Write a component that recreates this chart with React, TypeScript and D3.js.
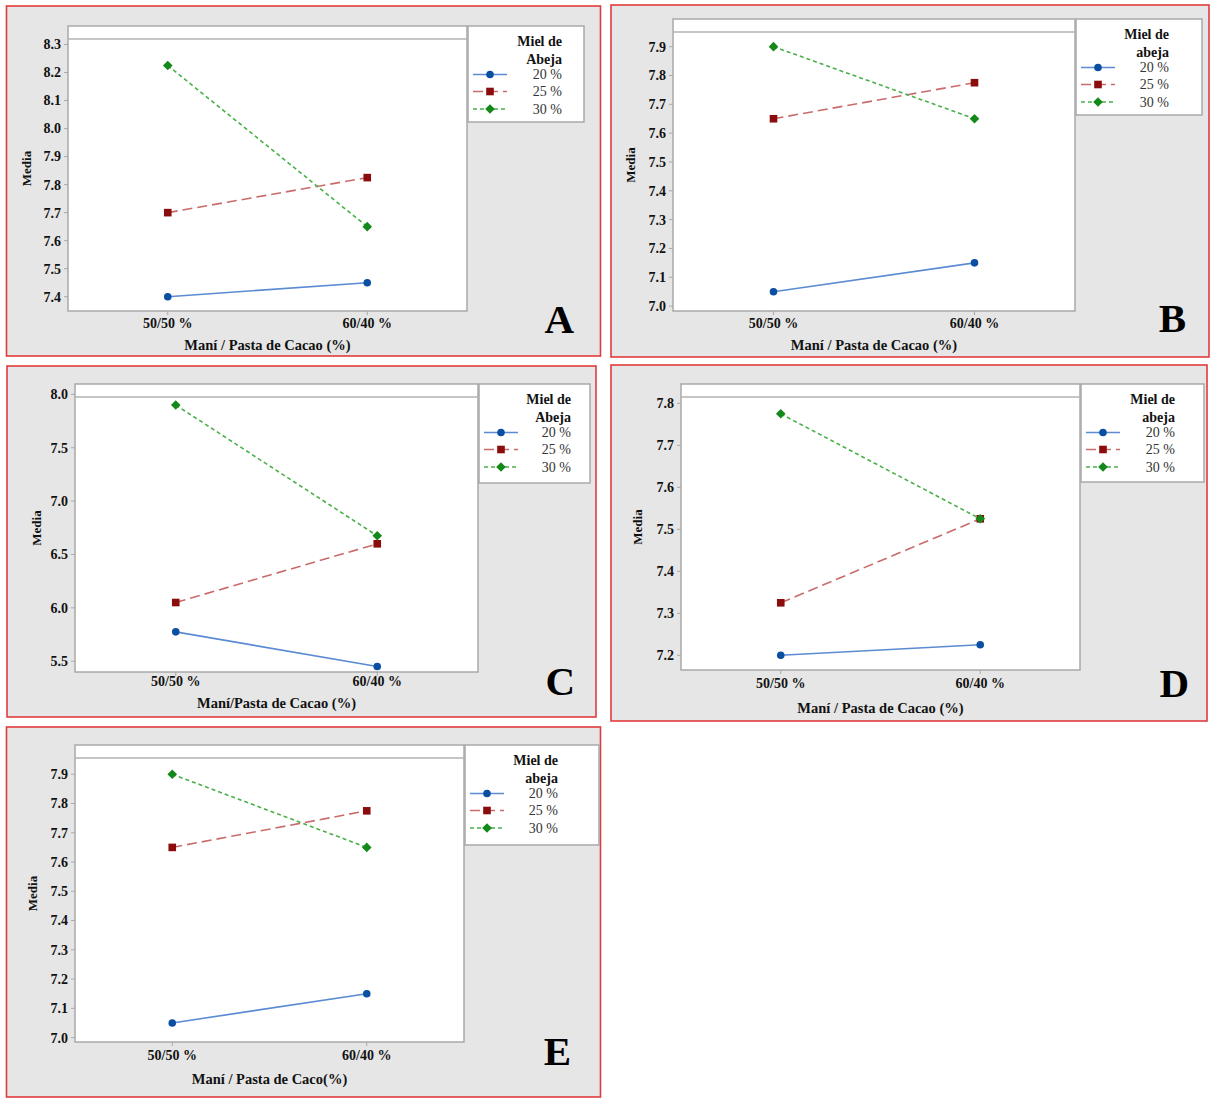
import React from "react";
import * as d3 from "d3";

// ---------- DATA ----------
const categories = ["50/50 %", "60/40 %"];
const seriesLabels = ["20 %", "25 %", "30 %"];
const panelLetters = ["A", "B", "C", "D", "E"];

const series20A = [7.4, 7.45];
const series25A = [7.7, 7.825];
const series30A = [8.225, 7.65];

const series20B = [7.05, 7.15];
const series25B = [7.65, 7.775];
const series30B = [7.9, 7.65];

const series20C = [5.775, 5.45];
const series25C = [6.05, 6.6];
const series30C = [7.9, 6.675];

const series20D = [7.2, 7.225];
const series25D = [7.325, 7.525];
const series30D = [7.775, 7.525];

const series20E = [7.05, 7.15];
const series25E = [7.65, 7.775];
const series30E = [7.9, 7.65];

const yTicksA = [7.4, 7.5, 7.6, 7.7, 7.8, 7.9, 8.0, 8.1, 8.2, 8.3];
const yTicksB = [7.0, 7.1, 7.2, 7.3, 7.4, 7.5, 7.6, 7.7, 7.8, 7.9];
const yTicksC = [5.5, 6.0, 6.5, 7.0, 7.5, 8.0];
const yTicksD = [7.2, 7.3, 7.4, 7.5, 7.6, 7.7, 7.8];
const yTicksE = [7.0, 7.1, 7.2, 7.3, 7.4, 7.5, 7.6, 7.7, 7.8, 7.9];

const yDomainA = [7.349, 8.366];
const yDomainB = [6.983, 7.996];
const yDomainC = [5.399, 8.097];
const yDomainD = [7.165, 7.846];
const yDomainE = [6.985, 8.0];

const xTitles = [
  "Maní / Pasta de Cacao (%)",
  "Maní / Pasta de Cacao (%)",
  "Maní/Pasta de Cacao (%)",
  "Maní / Pasta de Cacao (%)",
  "Maní / Pasta de Caco(%)",
];
const yTitle = "Media";
const legendTitles = [
  ["Miel de", "Abeja"],
  ["Miel de", "abeja"],
  ["Miel de", "Abeja"],
  ["Miel de", "abeja"],
  ["Miel de", "abeja"],
];

// ---------- STYLE / LAYOUT ----------
const FONT = "'Liberation Serif', 'Times New Roman', serif";
const lineColors = ["#5b8bd2", "#c96b6b", "#49b049"];
const markerColors = ["#0b4fa3", "#8b0c0c", "#13891a"];
const dashes = [null, "10,5", "4,3"];

const layouts = [
  { border: [6.5, 6, 600.5, 356], plot: [68, 26, 467, 311], legend: [468, 26, 584, 122], legendTextRight: 562, mediaX: 26, xLabelY: 328, xTitleY: 350, letterRight: 574, letterY: 333 },
  { border: [611, 5, 1209, 357], plot: [673, 19, 1075, 311], legend: [1076, 19, 1202, 115], legendTextRight: 1169, mediaX: 630, xLabelY: 328, xTitleY: 350, letterRight: 1186, letterY: 332 },
  { border: [7, 366, 596, 717], plot: [75, 384, 478, 672], legend: [479, 384, 590, 483], legendTextRight: 571, mediaX: 36, xLabelY: 686, xTitleY: 708, letterRight: 575, letterY: 695 },
  { border: [611, 365, 1207, 721], plot: [681, 384, 1080, 670], legend: [1081, 384, 1204, 482], legendTextRight: 1175, mediaX: 637, xLabelY: 688, xTitleY: 713, letterRight: 1189, letterY: 697 },
  { border: [6.5, 727, 600.5, 1097], plot: [75, 745, 464, 1042], legend: [465, 745, 599, 845], legendTextRight: 558, mediaX: 32, xLabelY: 1060, xTitleY: 1084, letterRight: 571, letterY: 1065 },
];

const panelSeries = [
  [series20A, series25A, series30A],
  [series20B, series25B, series30B],
  [series20C, series25C, series30C],
  [series20D, series25D, series30D],
  [series20E, series25E, series30E],
];
const panelTicks = [yTicksA, yTicksB, yTicksC, yTicksD, yTicksE];
const panelDomains = [yDomainA, yDomainB, yDomainC, yDomainD, yDomainE];

function Marker({ kind, x, y, color }: { kind: number; x: number; y: number; color: string }) {
  if (kind === 0) return <circle cx={x} cy={y} r={3.8} fill={color} />;
  if (kind === 1) return <rect x={x - 3.8} y={y - 3.8} width={7.6} height={7.6} fill={color} />;
  const s = 4.8;
  return <path d={`M${x},${y - s}L${x + s},${y}L${x},${y + s}L${x - s},${y}Z`} fill={color} />;
}

function Panel({ idx }: { idx: number }) {
  const L = layouts[idx];
  const [px0, py0, px1, py1] = L.plot;
  const x = d3.scalePoint<string>().domain(categories).range([px0, px1]).padding(0.5);
  const y = d3.scaleLinear().domain(panelDomains[idx]).range([py1, py0]);
  const line = d3
    .line<number>()
    .x((_, i) => x(categories[i]) as number)
    .y((d) => y(d));
  const series = panelSeries[idx];
  const [lx0, ly0, lx1, ly1] = L.legend;
  const [bx0, by0, bx1, by1] = L.border;
  const legendRows = [ly0 + 48.5, ly0 + 65.5, ly0 + 83];
  return (
    <g>
      <rect x={bx0} y={by0} width={bx1 - bx0} height={by1 - by0} fill="#e6e6e6" stroke="#e23b3b" strokeWidth={1.6} />
      {/* plot area */}
      <rect x={px0} y={py0} width={px1 - px0} height={py1 - py0} fill="#ffffff" stroke="#a9a9a9" strokeWidth={1.5} />
      <line x1={px0} x2={px1} y1={py0 + 13} y2={py0 + 13} stroke="#b3b3b3" strokeWidth={1.5} />
      {/* y axis ticks */}
      {panelTicks[idx].map((t) => (
        <g key={t}>
          <line x1={px0 - 4} x2={px0} y1={y(t)} y2={y(t)} stroke="#a9a9a9" strokeWidth={1} />
          <text x={px0 - 7} y={y(t)} dy="0.35em" textAnchor="end" fontFamily={FONT} fontWeight="bold" fontSize={14} fill="#111">
            {t.toFixed(1)}
          </text>
        </g>
      ))}
      {/* x axis ticks */}
      {categories.map((c) => (
        <g key={c}>
          <line x1={x(c)} x2={x(c)} y1={py1} y2={py1 + 4} stroke="#a9a9a9" strokeWidth={1} />
          <text x={x(c)} y={L.xLabelY} textAnchor="middle" fontFamily={FONT} fontWeight="bold" fontSize={14} fill="#111">
            {c}
          </text>
        </g>
      ))}
      <text x={(px0 + px1) / 2} y={L.xTitleY} textAnchor="middle" fontFamily={FONT} fontWeight="bold" fontSize={14.5} fill="#111">
        {xTitles[idx]}
      </text>
      <text
        transform={`translate(${L.mediaX},${(py0 + py1) / 2}) rotate(-90)`}
        dy="0.35em"
        textAnchor="middle"
        fontFamily={FONT}
        fontWeight="bold"
        fontSize={13}
        fill="#111"
      >
        {yTitle}
      </text>
      {/* series */}
      {series.map((vals, si) => (
        <g key={si}>
          <path d={line(vals) as string} fill="none" stroke={lineColors[si]} strokeWidth={1.6} strokeDasharray={dashes[si] ?? undefined} />
          {vals.map((v, i) => (
            <Marker key={i} kind={si} x={x(categories[i]) as number} y={y(v)} color={markerColors[si]} />
          ))}
        </g>
      ))}
      {/* legend */}
      <rect x={lx0} y={ly0} width={lx1 - lx0} height={ly1 - ly0} fill="#ffffff" stroke="#a9a9a9" strokeWidth={1.5} />
      <text x={L.legendTextRight} y={ly0 + 15.5} dy="0.35em" textAnchor="end" fontFamily={FONT} fontWeight="bold" fontSize={14} fill="#111">
        {legendTitles[idx][0]}
      </text>
      <text x={L.legendTextRight} y={ly0 + 33} dy="0.35em" textAnchor="end" fontFamily={FONT} fontWeight="bold" fontSize={14} fill="#111">
        {legendTitles[idx][1]}
      </text>
      {seriesLabels.map((s, si) => (
        <g key={s}>
          <line x1={lx0 + 5} x2={lx0 + 39} y1={legendRows[si]} y2={legendRows[si]} stroke={lineColors[si]} strokeWidth={1.6} strokeDasharray={dashes[si] ?? undefined} />
          <Marker kind={si} x={lx0 + 22} y={legendRows[si]} color={markerColors[si]} />
          <text x={L.legendTextRight} y={legendRows[si]} dy="0.35em" textAnchor="end" fontFamily={FONT} fontSize={14} fill="#333">
            {s}
          </text>
        </g>
      ))}
      {/* panel letter */}
      <text x={L.letterRight} y={L.letterY} textAnchor="end" fontFamily={FONT} fontWeight="bold" fontSize={41} fill="#000">
        {panelLetters[idx]}
      </text>
    </g>
  );
}

export default function App() {
  return (
    <svg
      width={1216}
      height={1103}
      viewBox="0 0 1216 1103"
      style={{ position: "absolute", left: 0, top: 0, display: "block", background: "#ffffff" }}
    >
      <rect x={0} y={0} width={1216} height={1103} fill="#ffffff" />
      {layouts.map((_, i) => (
        <Panel key={i} idx={i} />
      ))}
    </svg>
  );
}
